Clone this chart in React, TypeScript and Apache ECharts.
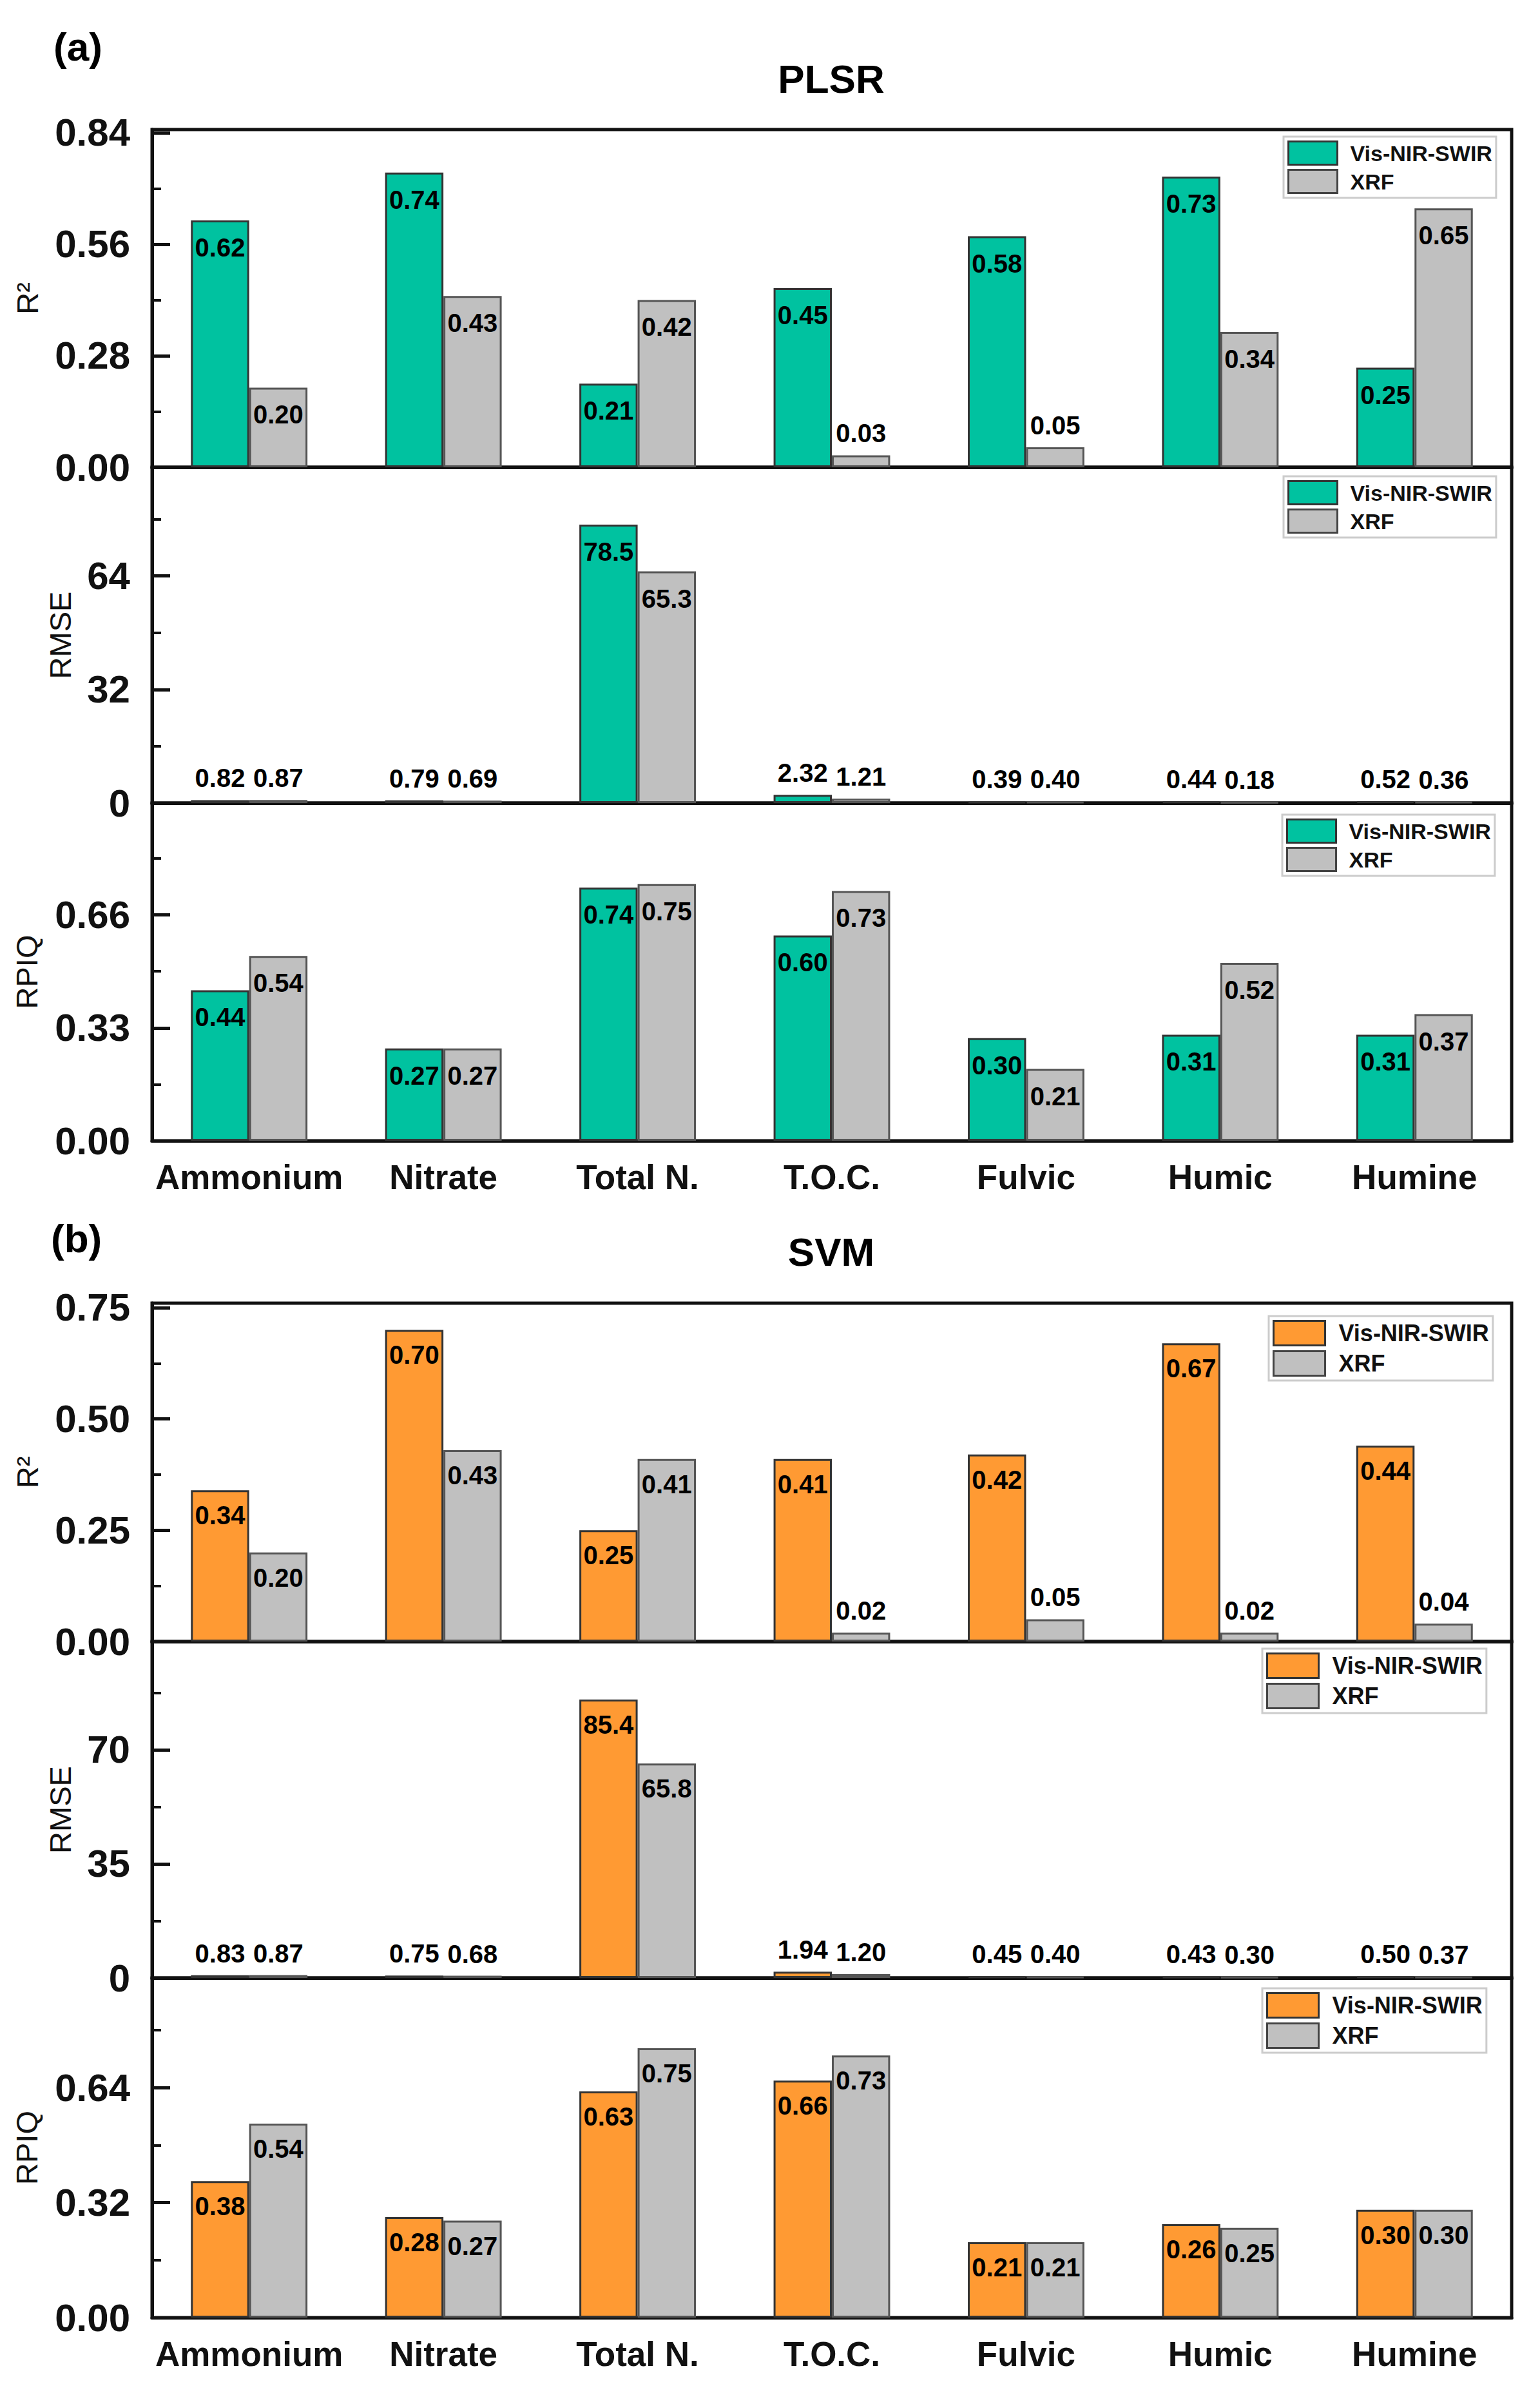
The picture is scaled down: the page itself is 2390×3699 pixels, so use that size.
import React, { useEffect, useRef } from "react";
import * as echarts from "echarts";

const categories = ["Ammonium", "Nitrate", "Total N.", "T.O.C.", "Fulvic", "Humic", "Humine"];
const VIS = "Vis-NIR-SWIR";
const XRF = "XRF";

const plsrR2Vis = [0.62, 0.74, 0.21, 0.45, 0.58, 0.73, 0.25];
const plsrR2Xrf = [0.20, 0.43, 0.42, 0.03, 0.05, 0.34, 0.65];
const plsrRmseVis = [0.82, 0.79, 78.5, 2.32, 0.39, 0.44, 0.52];
const plsrRmseXrf = [0.87, 0.69, 65.3, 1.21, 0.40, 0.18, 0.36];
const plsrRpiqVis = [0.44, 0.27, 0.74, 0.60, 0.30, 0.31, 0.31];
const plsrRpiqXrf = [0.54, 0.27, 0.75, 0.73, 0.21, 0.52, 0.37];

const svmR2Vis = [0.34, 0.70, 0.25, 0.41, 0.42, 0.67, 0.44];
const svmR2Xrf = [0.20, 0.43, 0.41, 0.02, 0.05, 0.02, 0.04];
const svmRmseVis = [0.83, 0.75, 85.4, 1.94, 0.45, 0.43, 0.50];
const svmRmseXrf = [0.87, 0.68, 65.8, 1.20, 0.40, 0.30, 0.37];
const svmRpiqVis = [0.38, 0.28, 0.63, 0.66, 0.21, 0.26, 0.30];
const svmRpiqXrf = [0.54, 0.27, 0.75, 0.73, 0.21, 0.25, 0.30];

const GREEN = "#00C2A0";
const ORANGE = "#FF9A33";
const GRAY = "#C0C0C0";
const INK = "#111";
const FONT = "Liberation Sans";
const LEFT = 236;
const RIGHT = 2346;

type Panel = {
  top: number; bottom: number; max: number; majors: number[]; minors: number[]; decimals: number;
  name: string; nameGap: number; vis: number[]; xrf: number[]; color: string; labelDist: number;
  legend: { x: number; y: number; iw: number; ih: number; gap: number; fs: number; pad: number; textGap: number };
  xLabels: boolean;
};

const legA = { iw: 76, ih: 36, gap: 5, fs: 34, pad: 6, textGap: 15 };
const legB = { iw: 80, ih: 38, gap: 6, fs: 36, pad: 6, textGap: 16 };

const panels: Panel[] = [
  { top: 201, bottom: 725, max: 0.848, majors: [0, 0.28, 0.56, 0.84], minors: [0.14, 0.42, 0.7], decimals: 2, name: "R²", nameGap: 170, vis: plsrR2Vis, xrf: plsrR2Xrf, color: GREEN, labelDist: 22, legend: { x: 1992, y: 212, ...legA }, xLabels: false },
  { top: 725, bottom: 1246, max: 94.65, majors: [0, 32, 64], minors: [16, 48, 80], decimals: 0, name: "RMSE", nameGap: 119, vis: plsrRmseVis, xrf: plsrRmseXrf, color: GREEN, labelDist: 22, legend: { x: 1992, y: 739, ...legA }, xLabels: false },
  { top: 1246, bottom: 1770, max: 0.987, majors: [0, 0.33, 0.66], minors: [0.165, 0.495, 0.825], decimals: 2, name: "RPIQ", nameGap: 171, vis: plsrRpiqVis, xrf: plsrRpiqXrf, color: GREEN, labelDist: 22, legend: { x: 1990, y: 1264, ...legA }, xLabels: true },
  { top: 2022, bottom: 2547, max: 0.76, majors: [0, 0.25, 0.5, 0.75], minors: [0.125, 0.375, 0.625], decimals: 2, name: "R²", nameGap: 170, vis: svmR2Vis, xrf: svmR2Xrf, color: ORANGE, labelDist: 19, legend: { x: 1969, y: 2042, ...legB }, xLabels: false },
  { top: 2547, bottom: 3069, max: 103.2, majors: [0, 35, 70], minors: [17.5, 52.5, 87.5], decimals: 0, name: "RMSE", nameGap: 119, vis: svmRmseVis, xrf: svmRmseXrf, color: ORANGE, labelDist: 19, legend: { x: 1959, y: 2558, ...legB }, xLabels: false },
  { top: 3069, bottom: 3596, max: 0.9456, majors: [0, 0.32, 0.64], minors: [0.16, 0.48, 0.8], decimals: 2, name: "RPIQ", nameGap: 171, vis: svmRpiqVis, xrf: svmRpiqXrf, color: ORANGE, labelDist: 19, legend: { x: 1959, y: 3085, ...legB }, xLabels: true },
];

const fmt = (v: number) => (v >= 10 ? v.toFixed(1) : v.toFixed(2));

function barData(values: number[], p: Panel) {
  return values.map((v) => ({
    value: v,
    label: v / p.max < 0.1
      ? { position: "top", distance: 14 }
      : { position: "insideTop", distance: p.labelDist },
  }));
}

function buildOption() {
  const grid: any[] = [];
  const xAxis: any[] = [];
  const yAxis: any[] = [];
  const series: any[] = [];
  const legend: any[] = [];
  panels.forEach((p, i) => {
    grid.push({
      left: LEFT, width: RIGHT - LEFT, top: p.top, height: p.bottom - p.top,
      show: true, borderColor: INK, borderWidth: 5, backgroundColor: "transparent",
    });
    xAxis.push({
      type: "category", gridIndex: i, data: categories,
      axisLine: { show: true, lineStyle: { color: INK, width: 5 } },
      axisTick: { show: false },
      axisLabel: {
        show: p.xLabels, interval: 0, margin: 30, color: INK,
        fontFamily: FONT, fontWeight: "bold", fontSize: 53,
      },
      splitLine: { show: false },
    });
    yAxis.push({
      type: "value", gridIndex: i, position: "left", min: 0, max: p.max,
      name: p.name, nameLocation: "middle", nameRotate: 90, nameGap: p.nameGap,
      nameTextStyle: { fontFamily: FONT, fontSize: 47, color: INK },
      axisLine: { show: true, lineStyle: { color: INK, width: 5 } },
      axisTick: { show: true, inside: true, length: 28, lineStyle: { color: INK, width: 5 }, customValues: p.majors },
      axisLabel: {
        show: true, margin: 34, color: INK, fontFamily: FONT, fontWeight: "bold", fontSize: 60,
        customValues: p.majors, formatter: (v: number) => v.toFixed(p.decimals),
      },
      splitLine: { show: false },
    });
    yAxis.push({
      type: "value", gridIndex: i, position: "left", min: 0, max: p.max,
      axisLine: { show: false },
      axisTick: { show: true, inside: true, length: 14, lineStyle: { color: INK, width: 4 }, customValues: p.minors },
      axisLabel: { show: false },
      splitLine: { show: false },
    });
    const common = {
      type: "bar", xAxisIndex: i, yAxisIndex: i * 2, barWidth: "30%", barGap: 0,
      label: {
        show: true, color: "#000", fontFamily: FONT, fontWeight: "bold", fontSize: 40,
        formatter: (d: any) => fmt(d.value),
      },
    };
    series.push({ ...common, name: VIS, data: barData(p.vis, p), itemStyle: { color: p.color, borderColor: "#333", borderWidth: 3 } });
    series.push({ ...common, name: XRF, data: barData(p.xrf, p), itemStyle: { color: GRAY, borderColor: "#555", borderWidth: 3 } });
    const l = p.legend;
    legend.push({
      left: l.x, top: l.y, orient: "vertical", align: "left", selectedMode: false,
      padding: l.pad, itemGap: l.gap, itemWidth: l.iw, itemHeight: l.ih, icon: "rect",
      borderColor: "#ccc", borderWidth: 3, backgroundColor: "#fff",
      textStyle: { fontFamily: FONT, fontWeight: "bold", fontSize: l.fs, color: "#111", padding: [0, 0, 0, l.textGap] },
      data: [
        { name: VIS, icon: "rect", itemStyle: { color: p.color, borderColor: "#333", borderWidth: 3 } },
        { name: XRF, icon: "rect", itemStyle: { color: GRAY, borderColor: "#444", borderWidth: 3 } },
      ],
    });
  });
  const titleStyle = { fontFamily: FONT, fontWeight: "bold", color: "#000" };
  return {
    animation: false,
    backgroundColor: "#fff",
    title: [
      { text: "(a)", left: 78, top: 36, textStyle: { ...titleStyle, fontSize: 62 } },
      { text: "PLSR", left: 1285, top: 86, textAlign: "center", textStyle: { ...titleStyle, fontSize: 62 } },
      { text: "(b)", left: 74, top: 1885, textStyle: { ...titleStyle, fontSize: 62 } },
      { text: "SVM", left: 1285, top: 1906, textAlign: "center", textStyle: { ...titleStyle, fontSize: 62 } },
    ],
    grid, xAxis, yAxis, series, legend,
  };
}

export default function App() {
  const ref = useRef<HTMLDivElement>(null);
  useEffect(() => {
    const chart = echarts.init(ref.current!, undefined, { renderer: "svg" });
    chart.setOption(buildOption() as any);
    return () => chart.dispose();
  }, []);
  return <div ref={ref} style={{ position: "absolute", left: 0, top: 0, width: 2390, height: 3699 }} />;
}
